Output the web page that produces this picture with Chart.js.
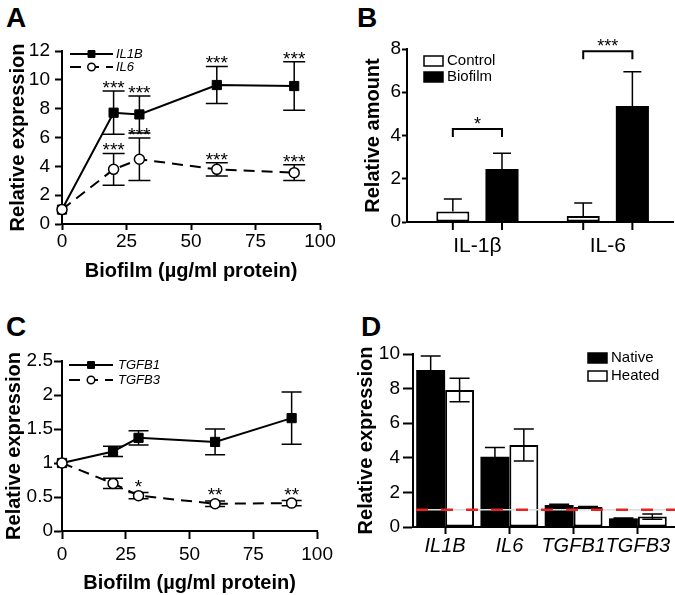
<!DOCTYPE html>
<html>
<head>
<meta charset="utf-8">
<script src="https://cdn.jsdelivr.net/npm/chart.js@4.4.0/dist/chart.umd.min.js"></script>
<style>
  html, body { margin: 0; padding: 0; background: #fff; }
  body { width: 675px; height: 595px; position: relative; overflow: hidden; font-family: 'Liberation Sans', Arial, sans-serif; }
  canvas { position: absolute; }
  .letter { position: absolute; font-size: 28px; font-weight: bold; line-height: 1; color: #000; }
</style>
</head>
<body>
<div class="letter" style="left:6px;top:4px">A</div>
<div class="letter" style="left:357px;top:4px">B</div>
<div class="letter" style="left:6px;top:313px">C</div>
<div class="letter" style="left:361px;top:313px">D</div>
<canvas id="chartA" width="337" height="290" style="left:0;top:0"></canvas>
<canvas id="chartB" width="335" height="290" style="left:340px;top:0"></canvas>
<canvas id="chartC" width="337" height="295" style="left:0;top:300px"></canvas>
<canvas id="chartD" width="335" height="295" style="left:340px;top:300px"></canvas>
<script>
// --- panel A : cytokine mRNA vs biofilm dose ---
const doses = [0, 20, 30, 60, 90];
const il1bMean = [1, 7.72, 7.6, 9.64, 9.57];
const il1bSem = [0, 1.5, 1.28, 1.28, 1.68];
const il6Mean = [1, 3.79, 4.49, 3.79, 3.56];
const il6Sem = [0, 1.1, 1.48, 0.46, 0.55];
const il1bStars = ['', '***', '***', '***', '***'];
const il6Stars = ['', '***', '***', '***', '***'];

// --- panel B : secreted protein ---
const cytokines = ['IL-1β', 'IL-6'];
const cytokinePos = [1, 2];
const controlAmount = [0.48, 0.28];
const controlSem = [0.58, 0.6];
const biofilmAmount = [2.45, 5.36];
const biofilmSem = [0.73, 1.59];
const bracketLevel = [4.3, 7.9];
const bracketStars = ['*', '***'];

// --- panel C : TGF-beta mRNA vs biofilm dose ---
const tgfb1Mean = [1, 1.17, 1.37, 1.31, 1.66];
const tgfb1Sem = [0, 0.075, 0.105, 0.19, 0.385];
const tgfb3Mean = [1, 0.7, 0.52, 0.4, 0.41];
const tgfb3Sem = [0, 0.075, 0.045, 0.04, 0.04];
const tgfb1Stars = ['', '', '', '', ''];
const tgfb3Stars = ['', '', '*', '**', '**'];

// --- panel D : native vs heated biofilm ---
const genes = ['IL1B', 'IL6', 'TGFB1', 'TGFB3'];
const nativeMean = [9.07, 4.06, 1.27, 0.5];
const nativeSem = [0.81, 0.54, 0.04, 0.02];
const heatedMean = [7.92, 4.74, 1.16, 0.6];
const heatedSem = [0.68, 0.93, 0.02, 0.15];
const baselineLevel = 1;

const FONT = "'Liberation Sans', Arial, Helvetica, sans-serif";
Chart.defaults.font.family = FONT;
Chart.defaults.color = '#000';

// chart area of every panel, in canvas pixels
const boxA = { w: 337, h: 290, l: 62, t: 51, r: 320, b: 224 };
const boxB = { w: 335, h: 290, l: 67, t: 49, r: 333, b: 222 };
const boxC = { w: 337, h: 295, l: 62, t: 61, r: 320, b: 231 };
const boxD = { w: 335, h: 295, l: 73, t: 54, r: 330, b: 227 };

const axis = (o) => {
    const ticks = { padding: o.pad, font: o.font || { size: 19 }, color: '#000', maxRotation: 0, autoSkip: false };
    if (o.step) ticks.stepSize = o.step;
    if (o.cb) ticks.callback = o.cb;
    const a = {
        type: o.type || 'linear',
        offset: o.offset || false,
        afterFit: o.fit,
        grid: { drawOnChartArea: false, offset: false, tickLength: o.tick, tickWidth: 2, tickColor: o.tickColor || '#000' },
        border: { color: '#000', width: 2 },
        ticks,
        title: o.title ? { display: true, text: o.title, font: { size: 20, weight: 'bold' }, padding: o.titlePad, color: '#000' } : { display: false }
    };
    if (o.min !== undefined) { a.min = o.min; a.max = o.max; }
    if (o.buildTicks) a.afterBuildTicks = o.buildTicks;
    return a;
};

const baseOptions = (box) => ({
    responsive: false, animation: false, devicePixelRatio: 1,
    layout: { padding: { top: box.t, right: box.w - box.r, left: 0, bottom: 0 } },
    plugins: { legend: { display: false }, tooltip: { enabled: false } }
});

// error bars through the chart's own scale
function drawErrBars(chart, dsIndex, means, sems, capW, upOnly) {
    const meta = chart.getDatasetMeta(dsIndex);
    const ys = chart.scales.y;
    const ctx = chart.ctx;
    ctx.save();
    ctx.strokeStyle = '#000';
    ctx.lineWidth = 1.5;
    meta.data.forEach((el, i) => {
        if (!sems[i]) return;
        const x = el.x;
        const top = ys.getPixelForValue(means[i] + sems[i]);
        const bot = ys.getPixelForValue(upOnly ? means[i] : means[i] - sems[i]);
        ctx.beginPath();
        ctx.moveTo(x, top); ctx.lineTo(x, bot);
        ctx.moveTo(x - capW / 2, top); ctx.lineTo(x + capW / 2, top);
        if (!upOnly) { ctx.moveTo(x - capW / 2, bot); ctx.lineTo(x + capW / 2, bot); }
        ctx.stroke();
    });
    ctx.restore();
}

function drawStars(chart, dsIndex, means, sems, stars, lift, size) {
    const meta = chart.getDatasetMeta(dsIndex);
    const ctx = chart.ctx;
    ctx.save();
    ctx.fillStyle = '#000';
    ctx.font = `${size}px ${FONT}`;
    ctx.textAlign = 'center';
    ctx.textBaseline = 'alphabetic';
    meta.data.forEach((el, i) => {
        if (!stars[i]) return;
        const top = chart.scales.y.getPixelForValue(means[i] + sems[i]);
        ctx.fillText(stars[i], el.x, top - lift + size * 0.57);
    });
    ctx.restore();
}

function drawLineLegend(chart, x0, x1, ys, textX) {
    const ctx = chart.ctx;
    chart.data.datasets.forEach((ds, i) => {
        const y = ys[i];
        ctx.save();
        ctx.strokeStyle = ds.borderColor;
        ctx.lineWidth = ds.borderWidth;
        ctx.setLineDash(ds.borderDash || []);
        ctx.beginPath(); ctx.moveTo(x0, y); ctx.lineTo(x1, y); ctx.stroke();
        ctx.setLineDash([]);
        ctx.fillStyle = ds.pointBackgroundColor;
        ctx.lineWidth = ds.pointBorderWidth;
        Chart.helpers.drawPoint(ctx, { pointStyle: ds.pointStyle, rotation: 0, radius: ds.pointRadius * 0.75, borderWidth: ds.pointBorderWidth }, (x0 + x1) / 2, y);
        ctx.fillStyle = '#000';
        ctx.font = `italic 13px ${FONT}`;
        ctx.textAlign = 'left';
        ctx.textBaseline = 'middle';
        ctx.fillText(ds.label, textX, y);
        ctx.restore();
    });
}

function drawBoxLegend(chart, x, ys, textX) {
    const ctx = chart.ctx;
    chart.data.datasets.forEach((ds, i) => {
        ctx.save();
        ctx.fillStyle = ds.backgroundColor;
        ctx.strokeStyle = '#000';
        ctx.lineWidth = 1.5;
        ctx.fillRect(x, ys[i] - 5, 19, 10);
        ctx.strokeRect(x, ys[i] - 5, 19, 10);
        ctx.fillStyle = '#000';
        ctx.font = `15px ${FONT}`;
        ctx.textAlign = 'left';
        ctx.textBaseline = 'middle';
        ctx.fillText(ds.label, textX, ys[i]);
        ctx.restore();
    });
}

const lineDatasets = (names, means1, means2) => ([
    { label: names[0], data: doses.map((x, i) => ({ x, y: means1[i] })), borderColor: '#000', borderWidth: 2,
      pointStyle: 'rect', pointRadius: 6.5, pointBackgroundColor: '#000', pointBorderColor: '#000', pointBorderWidth: 1, order: 1, clip: false },
    { label: names[1], data: doses.map((x, i) => ({ x, y: means2[i] })), borderColor: '#000', borderWidth: 2, borderDash: [11, 7],
      pointStyle: 'circle', pointRadius: 5, pointBackgroundColor: '#fff', pointBorderColor: '#000', pointBorderWidth: 1.5, order: 0, clip: false }
]);

// ---------- A ----------
new Chart(document.getElementById('chartA'), {
    type: 'line',
    data: { datasets: lineDatasets(['IL1B', 'IL6'], il1bMean, il6Mean) },
    options: {
        ...baseOptions(boxA),
        scales: {
            x: axis({ min: 0, max: 100, step: 25, tick: 6, pad: 0, title: 'Biofilm (µg/ml protein)', titlePad: { bottom: 7 }, fit: (s) => { s.height = boxA.h - boxA.b; } }),
            y: axis({ min: 0, max: 12, step: 2, tick: 7, pad: 5, title: 'Relative expression', titlePad: { top: 6 }, fit: (s) => { s.width = boxA.l; } })
        }
    },
    plugins: [{
        id: 'panelA',
        beforeDatasetsDraw(chart) {
            drawErrBars(chart, 0, il1bMean, il1bSem, 22, false);
            drawErrBars(chart, 1, il6Mean, il6Sem, 22, false);
        },
        afterDatasetsDraw(chart) {
            drawStars(chart, 0, il1bMean, il1bSem, il1bStars, 8, 19);
            drawStars(chart, 1, il6Mean, il6Sem, il6Stars, 8, 19);
            drawLineLegend(chart, 70, 113, [54, 67], 116);
        }
    }]
});

// ---------- B ----------
new Chart(document.getElementById('chartB'), {
    type: 'bar',
    data: {
        datasets: [
            { label: 'Control', data: cytokinePos.map((x, i) => ({ x, y: controlAmount[i] })), backgroundColor: '#fff', borderColor: '#000', borderWidth: 2, borderSkipped: false, categoryPercentage: 0.754, barPercentage: 0.673 },
            { label: 'Biofilm', data: cytokinePos.map((x, i) => ({ x, y: biofilmAmount[i] })), backgroundColor: '#000', borderColor: '#000', borderWidth: 0, borderSkipped: false, categoryPercentage: 0.754, barPercentage: 0.673 }
        ]
    },
    options: {
        ...baseOptions(boxB),
        scales: {
            x: axis({ min: 0.46, max: 2.5, tick: 8, pad: 4, tickColor: 'rgba(0,0,0,0)', font: { size: 21 },
                buildTicks: (s) => { s.ticks = cytokinePos.map((v) => ({ value: v })); },
                cb: (v) => cytokines[cytokinePos.indexOf(v)],
                fit: (s) => { s.height = boxB.h - boxB.b; } }),
            y: axis({ min: 0, max: 8, step: 2, tick: 5, pad: 1, title: 'Relative amount', titlePad: { top: 21 }, fit: (s) => { s.width = boxB.l; } })
        }
    },
    plugins: [{
        id: 'panelB',
        afterDatasetsDraw(chart) {
            const ctx = chart.ctx;
            drawErrBars(chart, 0, controlAmount, controlSem, 18, true);
            drawErrBars(chart, 1, biofilmAmount, biofilmSem, 18, true);
            const m0 = chart.getDatasetMeta(0), m1 = chart.getDatasetMeta(1);
            const bottom = chart.chartArea.bottom;
            ctx.save();
            ctx.strokeStyle = '#000';
            ctx.lineWidth = 2;
            // ticks under each bar
            [m0, m1].forEach((m) => m.data.forEach((el) => {
                ctx.beginPath(); ctx.moveTo(el.x, bottom); ctx.lineTo(el.x, bottom + 8); ctx.stroke();
            }));
            // significance brackets
            ctx.fillStyle = '#000';
            ctx.font = `18px ${FONT}`;
            ctx.textAlign = 'center';
            cytokines.forEach((c, i) => {
                const x1 = m0.data[i].x, x2 = m1.data[i].x;
                const y = chart.scales.y.getPixelForValue(bracketLevel[i]);
                ctx.beginPath();
                ctx.moveTo(x1, y + 8); ctx.lineTo(x1, y); ctx.lineTo(x2, y); ctx.lineTo(x2, y + 8);
                ctx.stroke();
                ctx.fillText(bracketStars[i], (x1 + x2) / 2, y - 9 + 18 * 0.57);
            });
            ctx.restore();
            drawBoxLegend(chart, 84, [61, 77], 107);
        }
    }]
});

// ---------- C ----------
new Chart(document.getElementById('chartC'), {
    type: 'line',
    data: { datasets: lineDatasets(['TGFB1', 'TGFB3'], tgfb1Mean, tgfb3Mean) },
    options: {
        ...baseOptions(boxC),
        scales: {
            x: axis({ min: 0, max: 100, step: 25, tick: 8, pad: 4, title: 'Biofilm (µg/ml protein)', titlePad: { bottom: 0 }, fit: (s) => { s.height = boxC.h - boxC.b; } }),
            y: axis({ min: 0, max: 2.5, step: 0.5, tick: 8, pad: 1, cb: (v) => String(v), title: 'Relative expression', titlePad: { top: 2 }, fit: (s) => { s.width = boxC.l; } })
        }
    },
    plugins: [{
        id: 'panelC',
        beforeDatasetsDraw(chart) {
            drawErrBars(chart, 0, tgfb1Mean, tgfb1Sem, 20, false);
            drawErrBars(chart, 1, tgfb3Mean, tgfb3Sem, 20, false);
        },
        afterDatasetsDraw(chart) {
            drawStars(chart, 0, tgfb1Mean, tgfb1Sem, tgfb1Stars, 10.5, 19);
            drawStars(chart, 1, tgfb3Mean, tgfb3Sem, tgfb3Stars, 10.5, 19);
            drawLineLegend(chart, 69, 113, [65, 80], 118);
        }
    }]
});

// ---------- D ----------
new Chart(document.getElementById('chartD'), {
    type: 'bar',
    data: {
        labels: genes,
        datasets: [
            { label: 'Native', data: nativeMean, backgroundColor: '#000', borderColor: '#000', borderWidth: 0, borderSkipped: false, categoryPercentage: 0.9, barPercentage: 1.0 },
            { label: 'Heated', data: heatedMean, backgroundColor: '#fff', borderColor: '#000', borderWidth: 2, borderSkipped: false, categoryPercentage: 0.9, barPercentage: 1.0 }
        ]
    },
    options: {
        ...baseOptions(boxD),
        scales: {
            x: axis({ type: 'category', offset: true, tick: 7, pad: 0, font: { size: 20, style: 'italic' }, fit: (s) => { s.height = boxD.h - boxD.b; } }),
            y: axis({ min: 0, max: 10, step: 2, tick: 10, pad: 3, title: 'Relative expression', titlePad: { top: 14 }, fit: (s) => { s.width = boxD.l; } })
        }
    },
    plugins: [{
        id: 'panelD',
        afterDatasetsDraw(chart) {
            drawErrBars(chart, 0, nativeMean, nativeSem, 20, false);
            drawErrBars(chart, 1, heatedMean, heatedSem, 20, false);
            const ctx = chart.ctx;
            const area = chart.chartArea;
            const y = chart.scales.y.getPixelForValue(baselineLevel);
            const x0 = area.left + 3;
            ctx.save();
            // x axis runs on to the edge of the figure
            ctx.strokeStyle = '#000';
            ctx.lineWidth = 2;
            ctx.beginPath(); ctx.moveTo(area.right, area.bottom); ctx.lineTo(chart.width, area.bottom); ctx.stroke();
            ctx.strokeStyle = '#dcdcdc';
            ctx.lineWidth = 1.5;
            ctx.beginPath(); ctx.moveTo(x0, y); ctx.lineTo(chart.width, y); ctx.stroke();
            ctx.strokeStyle = '#e8231f';
            ctx.lineWidth = 2.5;
            ctx.setLineDash([12, 13]);
            ctx.beginPath(); ctx.moveTo(x0, y); ctx.lineTo(chart.width, y); ctx.stroke();
            ctx.restore();
            drawBoxLegend(chart, 248, [58, 76], 271);
        }
    }]
});
</script>
</body>
</html>
